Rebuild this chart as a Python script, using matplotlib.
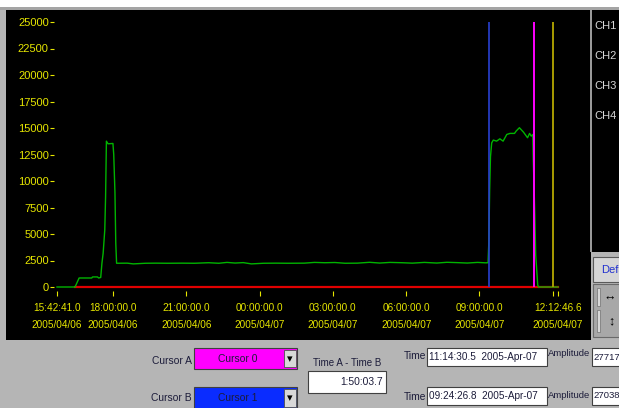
import matplotlib
matplotlib.use("Agg")
import matplotlib.pyplot as plt
import matplotlib.dates as mdates
import pandas as pd
from matplotlib.patches import Rectangle

FONT = ["Liberation Sans", "DejaVu Sans"]
plt.rcParams["font.family"] = FONT

# CH1 trace (green)
ch1_times = [
    "2005-04-06 15:42:41", "2005-04-06 16:27", "2005-04-06 16:37", "2005-04-06 17:08",
    "2005-04-06 17:10", "2005-04-06 17:22", "2005-04-06 17:25", "2005-04-06 17:30",
    "2005-04-06 17:33", "2005-04-06 17:36", "2005-04-06 17:40", "2005-04-06 17:42",
    "2005-04-06 17:44", "2005-04-06 17:48", "2005-04-06 18:00", "2005-04-06 18:02",
    "2005-04-06 18:05", "2005-04-06 18:07", "2005-04-06 18:09",
    "2005-04-06 18:35", "2005-04-06 18:50", "2005-04-06 19:20", "2005-04-06 19:45",
    "2005-04-06 20:15", "2005-04-06 20:50", "2005-04-06 21:20", "2005-04-06 21:55",
    "2005-04-06 22:20", "2005-04-06 22:40", "2005-04-06 23:00", "2005-04-06 23:20",
    "2005-04-06 23:40", "2005-04-07 00:10", "2005-04-07 00:40", "2005-04-07 01:10",
    "2005-04-07 01:50", "2005-04-07 02:15", "2005-04-07 02:40", "2005-04-07 03:05",
    "2005-04-07 03:30", "2005-04-07 04:00", "2005-04-07 04:30", "2005-04-07 04:55",
    "2005-04-07 05:20", "2005-04-07 05:50", "2005-04-07 06:15", "2005-04-07 06:45",
    "2005-04-07 07:15", "2005-04-07 07:40", "2005-04-07 08:05", "2005-04-07 08:30",
    "2005-04-07 08:55", "2005-04-07 09:15", "2005-04-07 09:21",
    "2005-04-07 09:23", "2005-04-07 09:25", "2005-04-07 09:27", "2005-04-07 09:30",
    "2005-04-07 09:34", "2005-04-07 09:42", "2005-04-07 09:50", "2005-04-07 09:58",
    "2005-04-07 10:07", "2005-04-07 10:15", "2005-04-07 10:26", "2005-04-07 10:30",
    "2005-04-07 10:38", "2005-04-07 10:48", "2005-04-07 10:58", "2005-04-07 11:03",
    "2005-04-07 11:07", "2005-04-07 11:11", "2005-04-07 11:12", "2005-04-07 11:16",
    "2005-04-07 11:18", "2005-04-07 11:20", "2005-04-07 11:23", "2005-04-07 11:25",
    "2005-04-07 12:12:46.6",
]
ch1_vals = [
    0, 0, 850, 850,
    950, 950, 850, 900,
    2240, 3190, 5400, 8550,
    13760, 13510, 13540, 12500,
    8870, 4130, 2240,
    2250, 2180, 2240, 2250,
    2240, 2250, 2240, 2290,
    2240, 2320, 2260, 2300,
    2180, 2240, 2250, 2240,
    2250, 2320, 2290, 2310,
    2240, 2250, 2330, 2260,
    2320, 2290, 2250, 2320,
    2260, 2330, 2300, 2260,
    2320, 2280, 2290,
    4300, 9200, 12300, 13600,
    13860, 13760, 13980, 13760,
    14390, 14490, 14490, 14710,
    15025, 14610, 14080, 14490,
    14235, 14390, 12090, 6650,
    3000, 1900, 190, 0,
    0,
]

# CH2 trace (red) stays at zero once it starts logging
ch2_times = ["2005-04-06 16:27", "2005-04-07 12:12:46.6"]
ch2_vals = [0, 0]

t_start = "2005-04-06 15:42:41"
t_end = "2005-04-07 12:12:46.6"

cursor_a = "2005-04-07 11:14:30.5"
cursor_b = "2005-04-07 09:24:26.8"
cursor_c = "2005-04-07 12:00:00"

y_ticks = [0, 2500, 5000, 7500, 10000, 12500, 15000, 17500, 20000, 22500, 25000]
x_tick_times = [
    "2005-04-06 15:42:41", "2005-04-06 18:00", "2005-04-06 21:00", "2005-04-07 00:00",
    "2005-04-07 03:00", "2005-04-07 06:00", "2005-04-07 09:00", "2005-04-07 12:00",
    "2005-04-07 12:12:46.6",
]
x_tick_labels = [
    "15:42:41.0\n2005/04/06", "18:00:00.0\n2005/04/06", "21:00:00.0\n2005/04/06",
    "00:00:00.0\n2005/04/07", "03:00:00.0\n2005/04/07", "06:00:00.0\n2005/04/07",
    "09:00:00.0\n2005/04/07", "", "12:12:46.6\n2005/04/07",
]
channels = ["CH1", "CH2", "CH3", "CH4"]

YELLOW = "#e6e600"
PANEL = "#b5b5b5"
INK = "#1c1c3a"

W, H = 619, 408
fig = plt.figure(figsize=(W / 100, H / 100), dpi=100, facecolor=PANEL)


def when(s):
    return pd.to_datetime(s, format="mixed")


def fx(x):
    return x / W


def fy(y):
    return 1 - y / H


def box(x0, y0, x1, y1, fc, ec="none", lw=0.0, z=-5):
    fig.add_artist(Rectangle((fx(x0), fy(y1)), (x1 - x0) / W, (y1 - y0) / H,
                             transform=fig.transFigure, facecolor=fc,
                             edgecolor=ec, linewidth=lw, zorder=z))


def label(x, y, s, ha="left", color=INK, size=7.4, z=3):
    fig.text(fx(x), fy(y), s, ha=ha, va="center", color=color, fontsize=size,
             zorder=z)


# window frame and the black graph panel
box(0, 0, W, 7, "white")
box(0, 7, W, 10, "#a4a4a4")
box(6, 10, 591, 340, "black")
box(591, 10, W, 252, "black")
box(590, 10, 592, 252, "#9a9a9a", z=-4)

ax = fig.add_axes([fx(57), fy(287), (558 - 57) / W, (287 - 22) / H])
ax.set_facecolor("black")
for s in ax.spines.values():
    s.set_visible(False)
ax.spines["left"].set_position(("outward", 2.2))
ax.spines["bottom"].set_position(("outward", 2.9))

ax.plot(when(ch2_times), ch2_vals, color="#e00000", lw=1.6,
        clip_on=False, zorder=2)
ax.plot(when(ch1_times), ch1_vals, color="#00b400", lw=1.0,
        clip_on=False, zorder=3)

ax.axvline(when(cursor_b), color="#2840d0", lw=1.2, zorder=4)
ax.axvline(when(cursor_a), color="#ff00ff", lw=1.4, zorder=4)
ax.axvline(when(cursor_c), color="#a89c00", lw=1.4, zorder=4)

ax.set_xlim(when(t_start), when(t_end))
ax.set_ylim(0, 25000)
ax.set_yticks(y_ticks)
ax.set_yticklabels([str(v) for v in y_ticks])
ax.set_xticks(mdates.date2num(when(x_tick_times)))
ax.set_xticklabels(x_tick_labels, linespacing=1.9)
ax.tick_params(axis="y", colors=YELLOW, length=2.9, width=0.8, pad=0.8,
               labelsize=8)
ax.tick_params(axis="x", colors=YELLOW, length=3.6, width=0.8, pad=4.8,
               labelsize=7.2)

# channel legend
for i, name in enumerate(channels):
    label(594, 26 + 30 * i, name, color="#d8d8d8", size=8)

# scale buttons on the right
box(593, 257, 622, 282, "#d6d6d6", ec="#5a5a5a", lw=0.8)
label(601, 270, "Default", color="#2030d0", size=8)
box(593, 284, 622, 337, "#a8a8a8", ec="#6a6a6a", lw=0.8)
box(597, 288, 600, 306, "#d8d8d8", ec="#707070", lw=0.5)
label(610, 298, "↔", ha="center", size=9, color="black")
box(597, 310, 600, 332, "#d8d8d8", ec="#707070", lw=0.5)
label(611, 321, "↕", ha="center", size=9, color="black")

# cursor controls
label(192, 361, "Cursor A", ha="right")
box(194, 348, 297, 369, "#ff00ff", ec="#404040", lw=0.8)
box(284, 350, 296, 367, "#d8d8d8", ec="#505050", lw=0.6)
label(290, 359, "▾", ha="center", size=8, color="black")
label(238, 359, "Cursor 0", ha="center")

label(192, 398, "Cursor B", ha="right")
box(194, 387, 297, 410, "#0a2cff", ec="#404040", lw=0.8)
box(284, 389, 296, 407, "#d8d8d8", ec="#505050", lw=0.6)
label(290, 398, "▾", ha="center", size=8, color="black")
label(238, 398, "Cursor 1", ha="center")

label(347, 363, "Time A - Time B", ha="center", size=7)
box(308, 371, 386, 393, "white", ec="#404040", lw=0.8)
label(383, 382, "1:50:03.7", ha="right")

label(426, 356, "Time", ha="right")
box(427, 348, 547, 366, "white", ec="#404040", lw=0.8)
label(429, 357, "11:14:30.5  2005-Apr-07", size=7.2)
label(590, 354, "Amplitude", ha="right", size=6.8)
box(592, 348, 622, 366, "white", ec="#404040", lw=0.8)
label(593, 357, "27717", size=6.8)

label(426, 397, "Time", ha="right")
box(427, 387, 547, 405, "white", ec="#404040", lw=0.8)
label(429, 396, "09:24:26.8  2005-Apr-07", size=7.2)
label(590, 395, "Amplitude", ha="right", size=6.8)
box(592, 387, 622, 405, "white", ec="#404040", lw=0.8)
label(593, 396, "27038", size=6.8)

fig.savefig("out.png", dpi=100, facecolor=PANEL)
